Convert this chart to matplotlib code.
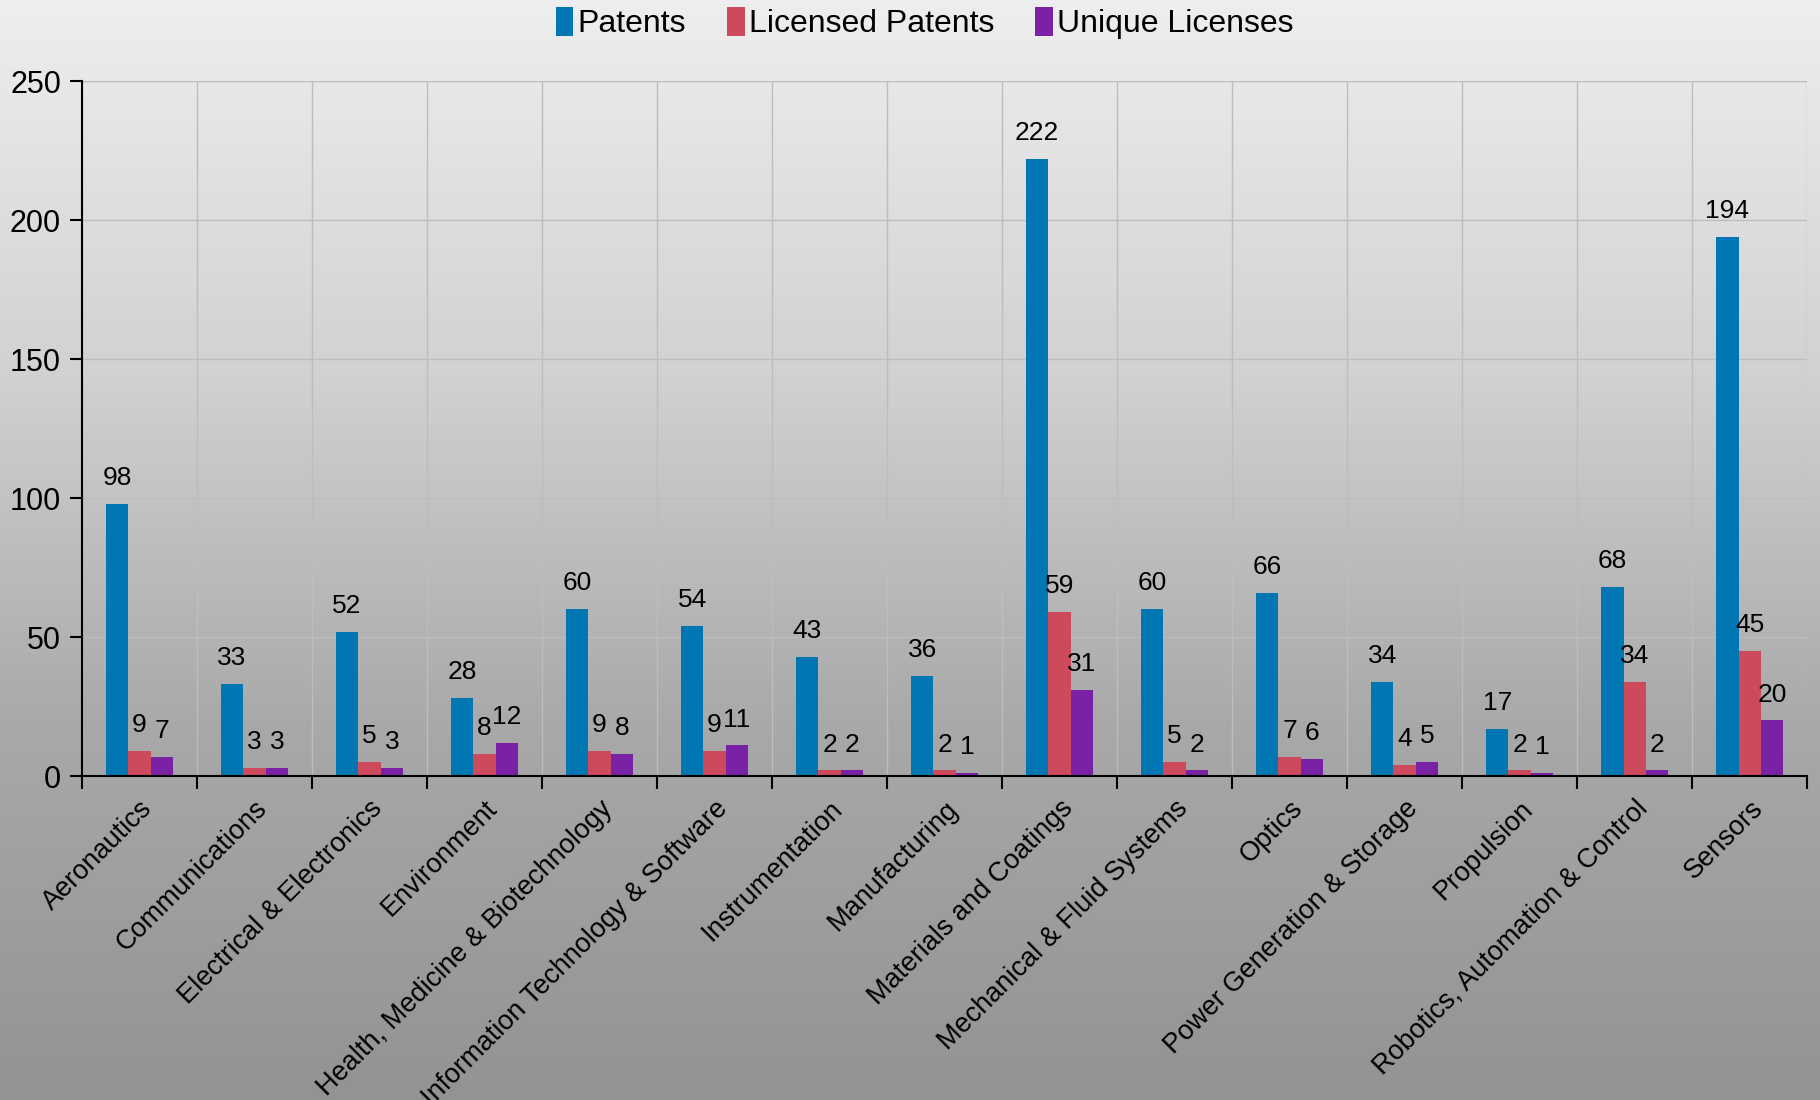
import numpy as np
import matplotlib
matplotlib.use("Agg")
import matplotlib.pyplot as plt
from matplotlib.patches import Patch

plt.rcParams['font.family'] = ['Liberation Sans', 'DejaVu Sans']

categories = ["Aeronautics", "Communications", "Electrical & Electronics", "Environment",
              "Health, Medicine & Biotechnology", "Information Technology & Software",
              "Instrumentation", "Manufacturing", "Materials and Coatings",
              "Mechanical & Fluid Systems", "Optics", "Power Generation & Storage",
              "Propulsion", "Robotics, Automation & Control", "Sensors"]
patents = [98, 33, 52, 28, 60, 54, 43, 36, 222, 60, 66, 34, 17, 68, 194]
licensed = [9, 3, 5, 8, 9, 9, 2, 2, 59, 5, 7, 4, 2, 34, 45]
unique = [7, 3, 3, 12, 8, 11, 2, 1, 31, 2, 6, 5, 1, 2, 20]

series_names = ["Patents", "Licensed Patents", "Unique Licenses"]
colors = ["#0076B2", "#CC4A5C", "#7A22A6"]

fig = plt.figure(figsize=(18.2, 11), dpi=100)

# grey vertical gradient behind everything
bg = fig.add_axes([0, 0, 1, 1], zorder=-10)
grad = np.linspace(0, 1, 256).reshape(-1, 1)
bg.imshow(grad, aspect='auto', cmap=matplotlib.colors.LinearSegmentedColormap.from_list(
    "", ["#eeeeee", "#d2d2d2", "#a8a8a8", "#939393"]), extent=[0, 1, 0, 1])
bg.axis('off')

ax = fig.add_axes([0.045, 0.2945, 0.948, 0.6315])
ax.set_facecolor('none')

x = np.arange(len(categories)) + 0.5
w = 0.195
for k, (vals, col) in enumerate(zip([patents, licensed, unique], colors)):
    pos = x + (k - 1) * w
    ax.bar(pos, vals, width=w, color=col, zorder=3)
    for px, v in zip(pos, vals):
        ax.annotate(str(v), (px, v), xytext=(0, 10), textcoords='offset points',
                    ha='center', va='bottom', fontsize=19)

ax.set_xlim(0, len(categories))
ax.set_ylim(0, 250)
ax.set_yticks(np.arange(0, 251, 50))
ax.set_xticks(np.arange(0, len(categories) + 1))
ax.set_xticklabels([])
ax.set_xticks(x, minor=True)
ax.set_xticklabels(categories, minor=True, rotation=45, ha='right',
                   rotation_mode='anchor', fontsize=19.5)
ax.tick_params(axis='x', which='minor', length=0, pad=14)
ax.tick_params(axis='x', which='major', length=9, width=1.5, direction='out')
ax.tick_params(axis='y', length=9, width=1.5, direction='out', labelsize=22, pad=6)
ax.grid(True, which='major', color='#bdbdbd', linewidth=1, zorder=0)

for s in ['top', 'right']:
    ax.spines[s].set_visible(False)
for s in ['left', 'bottom']:
    ax.spines[s].set_linewidth(1.5)
    ax.spines[s].set_zorder(4)

handles = [Patch(facecolor=c, label=n) for c, n in zip(colors, series_names)]
fig.legend(handles=handles, loc='center', bbox_to_anchor=(0.508, 0.979), ncol=3,
           frameon=False, fontsize=23, handlelength=0.55, handleheight=1.0,
           handletextpad=0.12, columnspacing=1.3)

fig.savefig("out.png", dpi=100)
